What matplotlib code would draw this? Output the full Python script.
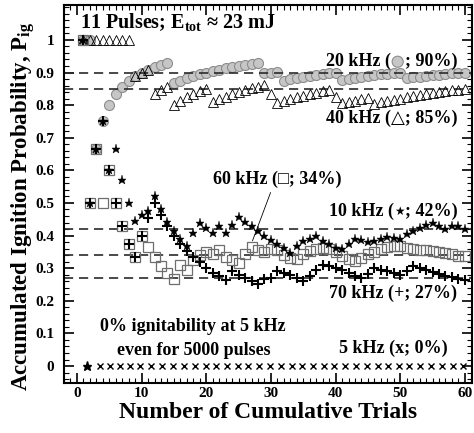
import matplotlib
matplotlib.use("Agg")
import matplotlib.pyplot as plt
from matplotlib.ticker import MultipleLocator
from matplotlib.offsetbox import TextArea, HPacker, AnnotationBbox, DrawingArea
from matplotlib.patches import Circle

FAM = ['Liberation Serif', 'DejaVu Serif', 'DejaVu Sans', 'Noto Sans']
plt.rcParams['font.family'] = FAM
plt.rcParams['font.weight'] = 'bold'
plt.rcParams['mathtext.fontset'] = 'custom'
plt.rcParams['mathtext.rm'] = 'Liberation Serif:bold'
plt.rcParams['mathtext.bf'] = 'Liberation Serif:bold'
plt.rcParams['mathtext.it'] = 'Liberation Serif:bold:italic'

# ---------------- data ----------------
trials = list(range(1, 61))

p20 = [1.000, 1.000, 0.667, 0.750, 0.800, 0.833, 0.857, 0.875, 0.889, 0.900,
       0.909, 0.917, 0.923, 0.929, 0.867, 0.875, 0.882, 0.889, 0.895, 0.900,
       0.905, 0.909, 0.913, 0.917, 0.920, 0.923, 0.926, 0.929, 0.897, 0.900,
       0.903, 0.875, 0.879, 0.882, 0.886, 0.889, 0.892, 0.895, 0.897, 0.900,
       0.878, 0.881, 0.884, 0.886, 0.889, 0.891, 0.894, 0.896, 0.898, 0.900,
       0.882, 0.885, 0.887, 0.889, 0.891, 0.893, 0.895, 0.897, 0.898, 0.900]

p40 = [1.000, 1.000, 1.000, 1.000, 1.000, 1.000, 1.000, 1.000, 0.889, 0.900,
       0.909, 0.833, 0.846, 0.857, 0.800, 0.813, 0.824, 0.833, 0.842, 0.850,
       0.810, 0.818, 0.826, 0.833, 0.840, 0.846, 0.852, 0.857, 0.862, 0.833,
       0.806, 0.813, 0.818, 0.824, 0.829, 0.833, 0.838, 0.842, 0.846, 0.825,
       0.805, 0.810, 0.814, 0.818, 0.822, 0.804, 0.809, 0.813, 0.816, 0.820,
       0.824, 0.827, 0.830, 0.833, 0.836, 0.839, 0.842, 0.845, 0.847, 0.850]

p10 = [1.000, 0.500, 0.667, 0.750, 0.600, 0.667, 0.571, 0.500, 0.444, 0.464,
       0.474, 0.520, 0.480, 0.443, 0.413, 0.390, 0.367, 0.408, 0.438, 0.423,
       0.408, 0.428, 0.408, 0.433, 0.458, 0.443, 0.428, 0.414, 0.400, 0.387,
       0.375, 0.362, 0.347, 0.368, 0.383, 0.389, 0.399, 0.383, 0.373, 0.363,
       0.358, 0.375, 0.389, 0.385, 0.380, 0.383, 0.389, 0.395, 0.392, 0.389,
       0.404, 0.414, 0.424, 0.432, 0.440, 0.430, 0.420, 0.429, 0.429, 0.420]

p60 = [1.000, 0.500, 0.667, 0.500, 0.600, 0.500, 0.429, 0.375, 0.333, 0.400,
       0.364, 0.333, 0.308, 0.286, 0.267, 0.310, 0.294, 0.325, 0.340, 0.350,
       0.342, 0.355, 0.335, 0.325, 0.316, 0.342, 0.365, 0.355, 0.350, 0.360,
       0.355, 0.340, 0.330, 0.327, 0.342, 0.352, 0.360, 0.362, 0.358, 0.350,
       0.337, 0.327, 0.322, 0.330, 0.342, 0.350, 0.360, 0.365, 0.367, 0.368,
       0.362, 0.358, 0.357, 0.355, 0.353, 0.350, 0.347, 0.343, 0.338, 0.336]

p70 = [1.000, 0.500, 0.667, 0.750, 0.600, 0.500, 0.429, 0.375, 0.333, 0.400,
       0.455, 0.500, 0.462, 0.429, 0.400, 0.375, 0.353, 0.333, 0.320, 0.300,
       0.285, 0.275, 0.265, 0.290, 0.280, 0.270, 0.262, 0.252, 0.268, 0.270,
       0.290, 0.284, 0.278, 0.270, 0.262, 0.275, 0.296, 0.310, 0.306, 0.300,
       0.294, 0.285, 0.277, 0.270, 0.283, 0.300, 0.296, 0.290, 0.285, 0.278,
       0.290, 0.306, 0.300, 0.294, 0.288, 0.282, 0.277, 0.272, 0.268, 0.265]

trials5 = [3.5, 5.1, 6.7, 8.2, 9.8, 11.5, 13.2, 14.9, 16.6, 18.2, 19.9,
           21.5, 23.2, 24.9, 26.5, 28.2, 29.9, 31.5, 33.2, 34.8, 36.5,
           38.2, 39.8, 41.5, 43.1, 44.8, 46.5, 48.1, 49.8, 51.4, 53.1,
           54.8, 56.4, 58.1, 59.7]
p5 = [0.0] * len(trials5)

star0_x = [1.5]
star0_y = [0.0]

ref_levels = [0.90, 0.85, 0.42, 0.34, 0.27]
yticks = [0, 0.1, 0.2, 0.3, 0.4, 0.5, 0.6, 0.7, 0.8, 0.9, 1.0]
ytick_labels = ['0', '0.1', '0.2', '0.3', '0.4', '0.5', '0.6', '0.7', '0.8', '0.9', '1']

# ---------------- figure ----------------
fig = plt.figure(figsize=(4.74, 4.33), dpi=100)
ax = fig.add_axes([64 / 474, 1 - 383 / 433, (472 - 64) / 474, (383 - 5) / 433])

ax.plot(trials, p20, ls='none', marker='o', ms=7.2, mfc='#c6c6c6', mec='#8c8c8c', mew=0.8, zorder=2)
for v in ref_levels:
    ax.axhline(v, color='#2a2a2a', ls=(0, (5.5, 3.5)), lw=1.2, zorder=2.5)
ax.plot(trials, p40, ls='none', marker='^', ms=7, mfc='none', mec='black', mew=0.6, zorder=3)
ax.plot(trials, p60, ls='none', marker='s', ms=6.5, mfc='none', mec='#6e6e6e', mew=0.9, zorder=3)
ax.plot(trials, p10, ls='none', marker='*', ms=6.5, mfc='black', mec='black', mew=0.3, zorder=4)
ax.plot(trials, p70, ls='none', marker='+', ms=7, mec='black', mew=1.5, zorder=4)
ax.plot(trials5, p5, ls='none', marker='x', ms=4.5, mec='black', mew=1.0, zorder=4)
ax.plot(star0_x, star0_y, ls='none', marker='*', ms=6.5, mfc='black', mec='black', zorder=4)

ax.set_xlim(-2, 61.1)
ax.set_ylim(-0.052, 1.107)

ax.xaxis.set_major_locator(MultipleLocator(10))
ax.xaxis.set_minor_locator(MultipleLocator(1))
ax.set_yticks(yticks)
ax.set_yticklabels(ytick_labels)
ax.yaxis.set_minor_locator(MultipleLocator(0.02))

ax.tick_params(which='both', direction='in', top=True, right=True)
ax.tick_params(which='major', length=7, width=1.2, labelsize=11)
ax.tick_params(which='minor', length=3.5, width=0.8)
ax.tick_params(axis='y', pad=7)
ax.tick_params(axis='x', pad=3)
for lab in ax.get_xticklabels() + ax.get_yticklabels():
    lab.set_fontweight('bold')
for s in ax.spines.values():
    s.set_linewidth(1.5)

ax.set_xlabel('Number of Cumulative Trials', fontsize=17, fontweight='bold', labelpad=1)
ax.set_ylabel('Accumulated Ignition Probability, P$_\\mathrm{ig}$', fontsize=16.5, fontweight='bold')
ax.yaxis.set_label_coords(-0.066, 0.468)

# ---------------- annotations ----------------
ax.text(0.5, 1.036, '11 Pulses; E$_\\mathrm{tot}$ \u2248 23 mJ', fontsize=14.5, fontweight='bold',
        ha='left', va='baseline', zorder=5)

tp = dict(fontsize=13, fontweight='bold', family=FAM)

# 20 kHz label with a grey circle symbol
da = DrawingArea(10, 9, 0, 0)
da.add_artist(Circle((5, 4.5), 4.0, fc='#c6c6c6', ec='#8c8c8c', lw=0.8))
parts = [TextArea('20 kHz (', textprops=tp), da, TextArea('; 90%)', textprops=tp)]
box = HPacker(children=parts, align='center', pad=0, sep=0)
ab = AnnotationBbox(box, (58.8, 0.933), xycoords='data', box_alignment=(1, 0.5), frameon=False, pad=0)
ax.add_artist(ab)

ax.text(58.8, 0.760, '40 kHz (\u25B3; 85%)', ha='right', va='center', **tp)
ax.text(21.0, 0.571, '60 kHz (\u25A1; 34%)', ha='left', va='center', **tp)

# 10 kHz label with a star symbol
parts10 = [TextArea('10 kHz (', textprops=tp),
           TextArea('\u2605', textprops=dict(tp, fontsize=8.5, family=['DejaVu Sans'])),
           TextArea('; 42%)', textprops=tp)]
box10 = HPacker(children=parts10, align='center', pad=0, sep=0)
ab10 = AnnotationBbox(box10, (58.8, 0.473), xycoords='data', box_alignment=(1, 0.5), frameon=False, pad=0)
ax.add_artist(ab10)

ax.text(58.8, 0.223, '70 kHz (+; 27%)', ha='right', va='center', **tp)
ax.text(57.4, 0.054, '5 kHz (x; 0%)', ha='right', va='center', **tp)
ax.text(17.9, 0.120, '0% ignitability at 5 kHz', ha='center', va='center', **tp)
ax.text(18.1, 0.049, 'even for 5000 pulses', ha='center', va='center', **tp)

ax.annotate('', xy=(27.0, 0.376), xytext=(30.1, 0.54),
            arrowprops=dict(arrowstyle='-', lw=0.6, color='black'))

fig.savefig('out.png', dpi=100)
